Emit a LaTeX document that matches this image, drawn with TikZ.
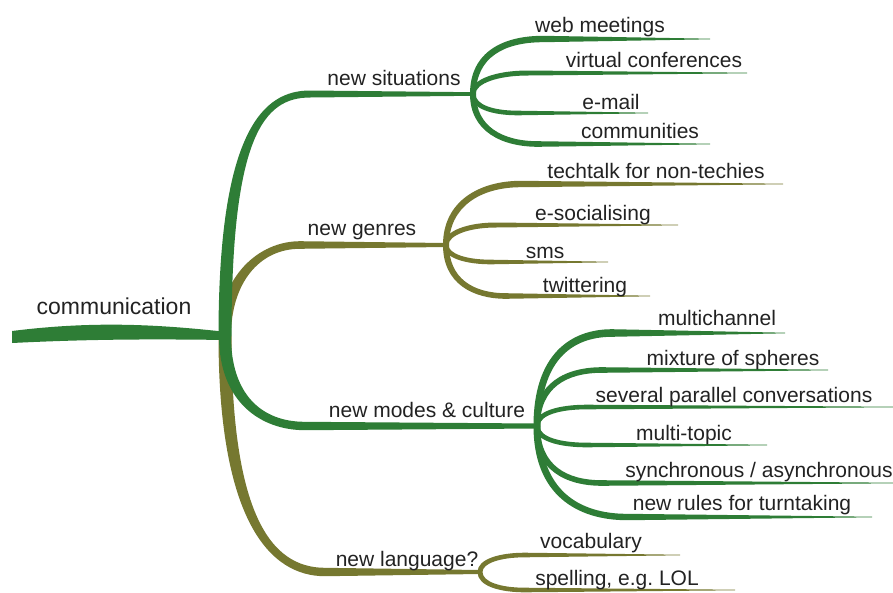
\documentclass[tikz,border=0pt]{standalone}
\usepackage{fontspec}
\setmainfont{Liberation Sans}
\usetikzlibrary{calc}
\definecolor{grn}{RGB}{46,125,54}
\definecolor{olv}{RGB}{118,120,48}
\definecolor{txt}{RGB}{34,34,34}
% tapered branch: colour, from, to, bend length, control drop, start/bend/end half widths
\newcommand{\twig}[8]{%
  \fill[#1] let \p1=(#2), \p2=(#3), \n1={sign(\y2-\y1)} in
    (\x1-#6pt,\y1) .. controls (\x1-#6pt,\y2-\n1*#5pt+\n1*#7pt) and (\x1+0.45*#4pt,\y2+\n1*#7pt) .. (\x1+#4pt,\y2+\n1*#7pt)
    -- (\x2,\y2+\n1*#8pt) -- (\x2,\y2-\n1*#8pt) -- (\x1+#4pt,\y2-\n1*#7pt)
    .. controls (\x1+0.45*#4pt,\y2-\n1*#7pt) and (\x1+#6pt,\y2-\n1*#5pt-\n1*#7pt) .. (\x1+#6pt,\y1) -- cycle;}

\begin{document}
\begin{tikzpicture}[x=1pt,y=-1pt,
    lbl/.style={anchor=base,inner sep=0pt,text=txt,font=\fontsize{21}{24}\selectfont}]
  \useasboundingbox (0,0) rectangle (893,592);
  % hubs
  \coordinate (tail) at (12,337);
  \coordinate (hub) at (225,336);
  \coordinate (sit) at (473,94);
  \coordinate (gen) at (446,245);
  \coordinate (mod) at (537,426);
  \coordinate (lang) at (480,572);
  % ends
  \coordinate (web) at (710,39);
  \coordinate (virt) at (747,73);
  \coordinate (mail) at (648,113);
  \coordinate (comm) at (710,144);
  \coordinate (tech) at (783,184);
  \coordinate (esoc) at (678,225);
  \coordinate (sms) at (608,262);
  \coordinate (twit) at (650,296);
  \coordinate (mch) at (785,333);
  \coordinate (mix) at (828,370);
  \coordinate (sev) at (893,407);
  \coordinate (mtop) at (767,445);
  \coordinate (sync) at (893,483);
  \coordinate (rules) at (872,517);
  \coordinate (voc) at (680,555);
  \coordinate (spell) at (735,590);

  % main limbs
  \twig{olv}{hub}{gen}{75}{35}{6}{3.8}{2}
  \twig{olv}{hub}{lang}{100}{55}{6.5}{4.2}{2}
  \twig{grn}{hub}{sit}{85}{40}{6.5}{3.5}{1.8}
  \twig{grn}{hub}{mod}{80}{28}{6}{4.2}{2.5}
  \fill[grn] ($(tail)+(0,-6)$) .. controls ($(tail)+(80,-16)$) and ($(hub)+(-70,-12)$) .. ($(hub)+(2,-4)$)
    -- ($(hub)+(2,4)$) .. controls ($(hub)+(-70,3)$) and ($(tail)+(80,2)$) .. ($(tail)+(0,6)$) -- cycle;

  % twigs
  \twig{grn}{sit}{web}{70}{15}{3}{3.2}{0.3}
  \twig{grn}{sit}{virt}{55}{8}{2.5}{2.5}{0.3}
  \twig{grn}{sit}{mail}{45}{6}{2.5}{2.3}{0.3}
  \twig{grn}{sit}{comm}{65}{15}{3}{2.8}{0.3}
  \twig{olv}{gen}{tech}{75}{20}{3}{3.2}{0.3}
  \twig{olv}{gen}{esoc}{50}{8}{2.5}{2.5}{0.3}
  \twig{olv}{gen}{sms}{45}{6}{2.5}{2.3}{0.3}
  \twig{olv}{gen}{twit}{60}{15}{3}{2.8}{0.3}
  \twig{grn}{mod}{mch}{75}{25}{3.5}{3.8}{0.3}
  \twig{grn}{mod}{mix}{65}{15}{3}{2.8}{0.3}
  \twig{grn}{mod}{sev}{50}{6}{2.5}{2.3}{0.3}
  \twig{grn}{mod}{mtop}{50}{6}{2.5}{2.3}{0.3}
  \twig{grn}{mod}{sync}{65}{15}{3}{2.8}{0.3}
  \twig{grn}{mod}{rules}{90}{25}{3.5}{3.2}{0.3}
  \twig{olv}{lang}{voc}{45}{6}{2.5}{2.3}{0.3}
  \twig{olv}{lang}{spell}{45}{6}{2.5}{2.3}{0.3}

  % labels
  \node[lbl,font=\fontsize{23}{26}\selectfont] (root) at (114,314) {communication};
  \node[lbl] (sitlbl) at (394,85) {new situations};
  \node[lbl] (genlbl) at (362,235) {new genres};
  \node[lbl] (modlbl) at (427,417) {new modes \& culture};
  \node[lbl] (langlbl) at (407,566) {new language?};
  \node[lbl] (weblbl) at (600,32) {web meetings};
  \node[lbl] (virtlbl) at (654,67) {virtual conferences};
  \node[lbl] (maillbl) at (611,109) {e-mail};
  \node[lbl] (commlbl) at (640,138) {communities};
  \node[lbl] (techlbl) at (656,178) {techtalk for non-techies};
  \node[lbl] (esoclbl) at (593,220) {e-socialising};
  \node[lbl] (smslbl) at (545,258) {sms};
  \node[lbl] (twitlbl) at (585,292) {twittering};
  \node[lbl] (mchlbl) at (717,325) {multichannel};
  \node[lbl] (mixlbl) at (733,365) {mixture of spheres};
  \node[lbl] (sevlbl) at (734,402) {several parallel conversations};
  \node[lbl] (mtoplbl) at (684,440) {multi-topic};
  \node[lbl] (synclbl) at (759,477) {synchronous / asynchronous};
  \node[lbl] (ruleslbl) at (742,510) {new rules for turntaking};
  \node[lbl] (voclbl) at (591,548) {vocabulary};
  \node[lbl] (spelllbl) at (617,585) {spelling, e.g.\ LOL};
\end{tikzpicture}
\end{document}
